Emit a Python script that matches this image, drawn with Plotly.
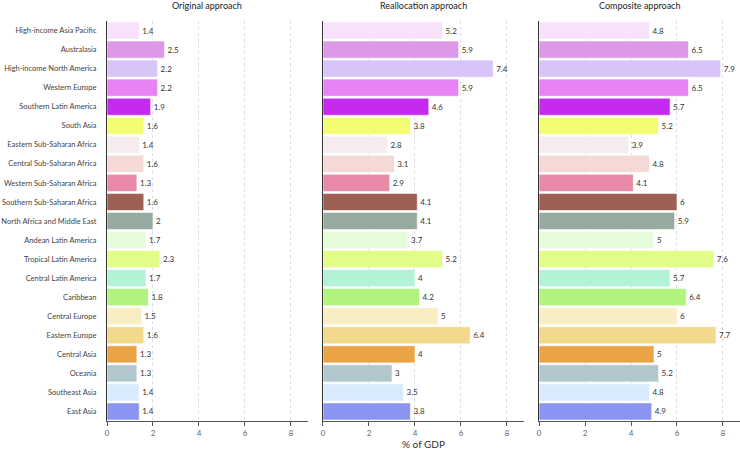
import plotly.graph_objects as go
from plotly.subplots import make_subplots

regions = [
    "High-income Asia Pacific", "Australasia", "High-income North America", "Western Europe",
    "Southern Latin America", "South Asia", "Eastern Sub-Saharan Africa", "Central Sub-Saharan Africa",
    "Western Sub-Saharan Africa", "Southern Sub-Saharan Africa", "North Africa and Middle East",
    "Andean Latin America", "Tropical Latin America", "Central Latin America", "Caribbean",
    "Central Europe", "Eastern Europe", "Central Asia", "Oceania", "Southeast Asia", "East Asia",
]
original = [1.4, 2.5, 2.2, 2.2, 1.9, 1.6, 1.4, 1.6, 1.3, 1.6, 2, 1.7, 2.3, 1.7, 1.8, 1.5, 1.6, 1.3, 1.3, 1.4, 1.4]
reallocation = [5.2, 5.9, 7.4, 5.9, 4.6, 3.8, 2.8, 3.1, 2.9, 4.1, 4.1, 3.7, 5.2, 4, 4.2, 5, 6.4, 4, 3, 3.5, 3.8]
composite = [4.8, 6.5, 7.9, 6.5, 5.7, 5.2, 3.9, 4.8, 4.1, 6, 5.9, 5, 7.6, 5.7, 6.4, 6, 7.7, 5, 5.2, 4.8, 4.9]
colors = [
    "#f8e1fb", "#dd99e8", "#d8c4f8", "#e783f5", "#c42bef", "#f2fd74", "#f7eced", "#f5d9d6",
    "#e78aa8", "#9e5f55", "#97aa9f", "#e4fcd9", "#e2fc88", "#b4f2d6", "#b0f47f", "#f9edc4",
    "#f3d98c", "#eba445", "#b2c7cd", "#d9eafc", "#8b94f0",
]
panel_titles = ["Original approach", "Reallocation approach", "Composite approach"]
x_ticks = [0, 2, 4, 6, 8]

FONT = "Lato"
fig = make_subplots(rows=1, cols=3, shared_yaxes=True, horizontal_spacing=0.0237)

for i, vals in enumerate([original, reallocation, composite]):
    fig.add_trace(go.Bar(
        y=regions, x=vals, orientation="h",
        marker=dict(color=colors, line=dict(color="rgba(255,255,255,0.6)", width=1)),
        text=[str(v) for v in vals], textposition="outside", cliponaxis=False,
        textfont=dict(family=FONT, size=8, color="#333"),
        showlegend=False, hoverinfo="x+y",
    ), row=1, col=i + 1)

domains = [[0, 0.3175], [0.3412, 0.6588], [0.6825, 1.0]]
for i in range(3):
    ax = "xaxis" if i == 0 else f"xaxis{i+1}"
    fig.layout[ax].update(
        domain=domains[i], range=[0, 8.74], tickvals=x_ticks, automargin=False,
        showgrid=True, gridcolor="#dddddd", griddash="3px,3px", gridwidth=1,
        zeroline=False, showline=True, linecolor="#555", linewidth=1,
        ticks="outside", ticklen=4, tickcolor="#555",
        tickfont=dict(family=FONT, size=8, color="#666"),
        title=dict(text="% of GDP" if i == 1 else "", font=dict(family=FONT, size=10, color="#333"), standoff=0),
    )
    fig.add_annotation(
        text=panel_titles[i], x=sum(domains[i]) / 2, y=1.0, xref="paper", yref="paper",
        yanchor="bottom", xanchor="center", yshift=8, showarrow=False,
        font=dict(family=FONT, size=9, color="#222"),
    )

for i in range(3):
    ay = "yaxis" if i == 0 else f"yaxis{i+1}"
    fig.layout[ay].update(
        autorange="reversed", showline=True, linecolor="#333", linewidth=1, automargin=False,
        showgrid=False, ticks="", tickfont=dict(family=FONT, size=7.5, color="#444"),
        showticklabels=(i == 0), ticklabelstandoff=8,
    )

fig.update_layout(
    width=740, height=455, margin=dict(l=107, r=0, t=21, b=34),
    paper_bgcolor="white", plot_bgcolor="white", bargap=0.1,
    font=dict(family=FONT),
)
fig.write_html("out.html", config={"displayModeBar": False},
               post_script="document.body.style.margin='0';")
